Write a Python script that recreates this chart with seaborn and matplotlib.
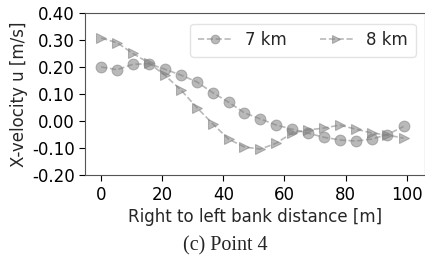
import numpy as np
import pandas as pd
import matplotlib
matplotlib.use("Agg")
import matplotlib.pyplot as plt
import seaborn as sns

# --- Données ---
distance = [0, 5.2, 10.4, 15.6, 20.8, 26.1, 31.3, 36.5, 41.7, 46.9,
            52.1, 57.3, 62.5, 67.7, 72.9, 78.1, 83.3, 88.5, 93.7, 99.0]
u_7km = [0.200, 0.190, 0.210, 0.212, 0.192, 0.170, 0.145, 0.105, 0.070, 0.030,
         0.008, -0.015, -0.030, -0.045, -0.060, -0.070, -0.074, -0.067, -0.050, -0.020]
u_8km = [0.307, 0.290, 0.250, 0.215, 0.170, 0.115, 0.050, -0.010, -0.067, -0.096,
         -0.104, -0.082, -0.044, -0.033, -0.026, -0.015, -0.030, -0.044, -0.052, -0.063]
labels = ["7 km", "8 km"]
yticks = [0.40, 0.30, 0.20, 0.10, 0.00, -0.10, -0.20]
xticks = [0, 20, 40, 60, 80, 100]

sns.set_style("ticks")
plt.rcParams["font.family"] = ["DejaVu Sans"]

fig = plt.figure(figsize=(4.25, 2.59), dpi=100)
ax = fig.add_axes([0.20, 0.324, 0.80, 0.626])

for u, mk, lab in [(u_7km, "o", labels[0]), (u_8km, ">", labels[1])]:
    sns.lineplot(x=distance, y=u, ax=ax, color="gray", alpha=0.55,
                 linestyle="--", marker=mk, markersize=7.8, markeredgecolor="gray",
                 linewidth=1.2, label=lab)

ax.set_xlim(-5.3, 106)
ax.set_ylim(-0.20, 0.40)
ax.set_xticks(xticks)
ax.set_yticks(yticks)
ax.set_yticklabels([f"{t:.2f}" for t in yticks])
ax.tick_params(labelsize=12, colors="black", length=4)
for s in ax.spines.values():
    s.set_color("#555555")
ax.set_xlabel("Right to left bank distance [m]", fontsize=12, labelpad=3)
ax.set_ylabel("X-velocity u [m/s]", fontsize=12, labelpad=3)
ax.legend(loc="upper right", ncol=2, fontsize=12, frameon=True,
          edgecolor="#dddddd", columnspacing=2.0, handlelength=2.0,
          markerscale=0.8, borderpad=0.45, bbox_to_anchor=(0.997, 0.985))

fig.text(0.53, 0.05, "(c) Point 4", ha="center", va="center",
         fontsize=14.5, family="Liberation Serif")

fig.savefig("out.png", dpi=100)
